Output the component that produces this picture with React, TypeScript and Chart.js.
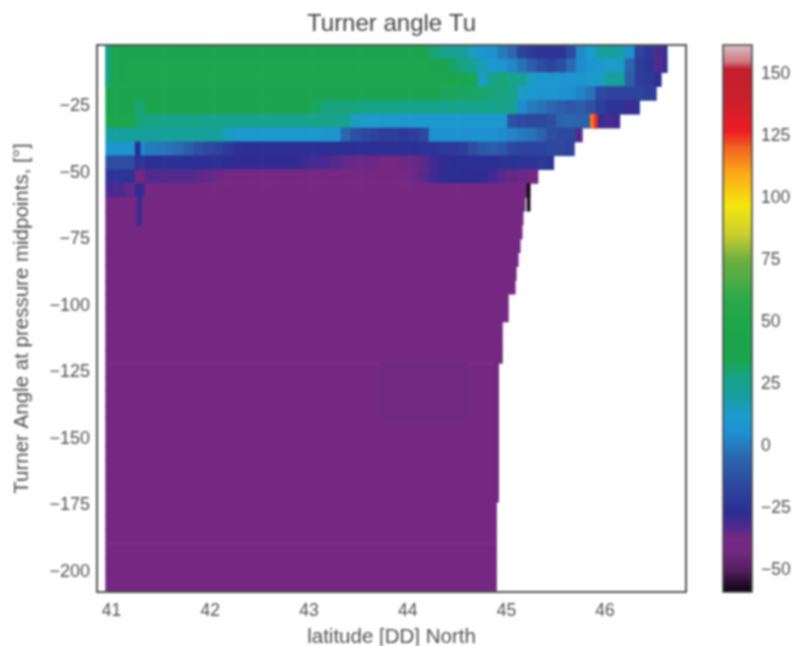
import React, { useEffect, useRef } from "react";
import { Chart, registerables } from "chart.js";

Chart.register(...registerables);

// ---- data ----
const chartTitle = "Turner angle Tu";
const xAxisLabel = "latitude [DD] North";
const yAxisLabel = "Turner Angle at pressure midpoints, [°]";
const xTickValues = [41, 42, 43, 44, 45, 46];
const yTickValues = [-25, -50, -75, -100, -125, -150, -175, -200];
const barTickValues = [150, 125, 100, 75, 50, 25, 0, -25, -50];

const firstLat = 40.94;
const latBin = 0.0993;
const firstDepth = -2.1;
const depthBin = 5.2;

const row0 = [40,36,40,40,40,40,40,40,34,40, 40,40,40,40,40,40,40,40,40,40, 40,40,40,40,40,40,40,40,40,40, 40,40,38,30,26,24,22,14,8,6, 0,-5,-18,-22,-24,-24,-24,-15,3,12, 20,22,18,6,-18,-22,-32,-26];
const row1 = [40,38,42,42,42,42,42,42,42,42, 42,42,42,42,42,42,42,42,42,42, 42,42,42,42,42,42,42,42,42,42, 42,42,42,40,36,32,28,24,16,10, 8,3,-2,-8,-14,-18,-14,-4,4,8, 10,12,14,-5,-20,-24,-33,-26];
const row2 = [40,40,42,42,42,42,42,42,42,42, 42,42,42,42,42,42,42,42,42,42, 42,42,42,42,42,42,42,42,42,42, 42,42,42,42,42,40,36,33,14,28, 30,28,24,14,10,9,8,8,8,10, 14,22,20,-8,-20,-22,-26];
const row3 = [40,40,40,40,40,40,40,40,40,40, 40,40,40,40,40,40,40,40,40,40, 40,40,40,40,40,40,40,40,40,40, 38,36,36,35,33,33,32,32,31,30, 29,28,14,10,8,8,6,6,2,-2, -16,-18,-18,-18,-18,-20,-22];
const row4 = [40,40,40,30,37,37,37,37,37,37, 37,37,37,37,37,37,37,37,37,37, 36,32,29,29,29,29,28,28,28,28, 27,27,27,27,27,27,27,27,27,27, 26,25,4,0,-2,-5,-8,-10,-8,-12, -20,-24,-24,-30,-24];
const row5 = [42,42,42,30,28,28,28,28,28,28, 26,26,26,26,26,26,26,26,26,26, 26,26,26,26,24,14,12,12,11,11, 10,10,10,10,10,10,10,10,10,10, 10,-12,-15,-16,-16,-14,-6,-5,-6,-8, -30,-31,-30];
const row6 = [20,20,20,22,22,22,22,22,22,22, 22,20,15,11,10,10,10,10,10,10, 10,10,9,8,-5,-12,-16,-18,-20,-20, -22,-20,-16,6,6,6,6,6,6,6, 4,2,0,-2,-6,-14,-16,-16,-33];
const row7 = [8,8,8,4,0,-1,-2,-4,-8,-12, -16,-18,-22,-25,-26,-26,-26,-26,-26,-26, -26,-26,-26,-26,-26,-26,-26,-26,-26,-26, -26,-26,-24,-24,-22,-22,-20,-14,-10,-8, -10,-16,-18,-18,-18,-16,-16,-18];
const row8 = [-14,-14,-14,-22,-26,-26,-26,-26,-26,-26, -26,-26,-27,-28,-28,-28,-28,-28,-28,-28, -30,-31,-32,-33,-35,-36,-36,-36,-37,-37, -36,-36,-34,-30,-28,-27,-26,-26,-26,-26, -25,-25,-24,-24,-22,-24];
const row9 = [-24,-24,-24,-37,-33,-33,-33,-33,-33,-34, -35,-36,-37,-37,-37,-37,-37,-37,-37,-37, -37,-37,-37,-37,-37,-37,-37,-37,-37,-37, -37,-36,-34,-30,-28,-27,-27,-27,-28,-30, -34,-35,-36,-37,-37];
const row10 = [-32,-32,-35,-30,-37,-37,-37,-37,-37,-37, -37,-37,-37,-37,-37,-37,-37,-37,-37,-37, -37,-37,-37,-37,-37,-37,-37,-37,-37,-37, -37,-37,-37,-37,-37,-37,-37,-37,-37,-37, -37,-37,-37,-37,-37];
const upperRows = [row0, row1, row2, row3, row4, row5, row6, row7, row8, row9, row10];

// where each depth row ends, in degrees North
const rowEndLat = [46.63, 46.63, 46.57, 46.52, 46.35, 46.15, 45.77, 45.69, 45.48, 45.32, 45.24, 45.19, 45.17, 45.16, 45.14, 45.12, 45.10, 45.09, 45.02, 45.02, 44.96, 44.96, 44.96, 44.92, 44.92, 44.92, 44.92, 44.92, 44.92, 44.92, 44.92, 44.92, 44.92, 44.90, 44.90, 44.90, 44.90, 44.90, 44.90, 44.90];
// uniform value of the rows below the layered part
const deepRowValue = [-37, -37, -37, -37, -37, -37, -37, -37, -37, -37, -37, -37, -37, -37, -37, -37, -37, -37, -37, -37, -37, -37, -37, -37, -37, -37, -37, -37, -37];
// small features: [lat from, lat to, row, value]
const spots: number[][] = [
  [40.94, 40.98, 0, 22], [40.94, 40.98, 1, 22], [40.94, 40.98, 2, 24],
  [41.24, 41.29, 7, -27], [41.24, 41.29, 8, -24], [41.25, 41.30, 9, -38],
  [41.26, 41.30, 10, -28], [41.26, 41.30, 11, -28], [41.26, 41.30, 12, -28],
  [45.85, 45.89, 5, 117], [45.89, 45.92, 5, 125],
  [45.21, 45.24, 10, -58], [45.21, 45.24, 11, -58],
  [43.72, 44.61, 23, -41], [43.72, 44.61, 24, -41], [43.72, 44.61, 25, -41], [43.72, 44.61, 26, -41],
  [44.87, 44.92, 23, -42], [44.87, 44.92, 24, -42], [44.87, 44.92, 25, -42], [44.87, 44.92, 26, -42], [44.87, 44.92, 27, -42], [44.87, 44.92, 28, -42], [44.87, 44.92, 29, -42], [44.87, 44.92, 30, -42], [44.87, 44.92, 31, -42], [44.87, 44.92, 32, -42],
];

// colour map: value -> colour
const mapValues = [-59, -55, -50, -43, -37, -32, -27, -15, -5, 5, 12, 20, 28, 34, 50, 60, 75, 85, 97, 110, 120, 127, 140, 152, 155, 161.7];
const mapColors = ["#0a0510", "#2a1030", "#55215f", "#702880", "#742882", "#4a2a90", "#2c2d92", "#2d4aa0", "#2b66ae", "#1e90d0", "#1c9bcd", "#169f9f", "#17a386", "#1ba550", "#1ea64a", "#2eaa4a", "#6eb040", "#c8cf2f", "#f5e60d", "#fba918", "#f26522", "#ed1c24", "#c9202c", "#c41e2d", "#cf7a80", "#d8c0c4"];
const barRange = [-59, 161.7];

// ---- helpers ----
const hexToRgb = (h: string) => [1, 3, 5].map((i) => parseInt(h.slice(i, i + 2), 16));
function colorFor(v: number): string {
  let i = 0;
  while (i < mapValues.length - 2 && v > mapValues[i + 1]) i++;
  const t = Math.max(0, Math.min(1, (v - mapValues[i]) / (mapValues[i + 1] - mapValues[i])));
  const a = hexToRgb(mapColors[i]);
  const b = hexToRgb(mapColors[i + 1]);
  return `rgb(${a.map((c, n) => Math.round(c + (b[n] - c) * t)).join(",")})`;
}
const rowCenter = (r: number) => firstDepth - depthBin * (r + 0.5);

type Cell = { x: number[]; y: number; v: number };
function buildCells(): Cell[] {
  const cells: Cell[] = [];
  upperRows.forEach((vals, r) => {
    vals.forEach((v, k) => {
      const lo = firstLat + latBin * k;
      const hi = Math.min(lo + latBin, rowEndLat[r]);
      if (hi > lo) cells.push({ x: [lo, hi], y: rowCenter(r), v });
    });
  });
  deepRowValue.forEach((v, i) => {
    const r = upperRows.length + i;
    cells.push({ x: [firstLat, rowEndLat[r]], y: rowCenter(r), v });
  });
  spots.forEach(([lo, hi, r, v]) => cells.push({ x: [lo, hi], y: rowCenter(r), v }));
  return cells;
}

const minus = (v: number | string) => String(v).replace("-", "\u2212");
const TEXT = "#505050";
const FONT = "'Liberation Sans', Arial, sans-serif";

const framePlugin = {
  id: "frame",
  afterDatasetsDraw(chart: any, _a: any, opts: any) {
    const { left, top, width, height } = chart.chartArea;
    const c = chart.ctx;
    c.save();
    c.strokeStyle = opts.color;
    c.lineWidth = opts.width;
    c.strokeRect(left, top, width, height);
    c.restore();
  },
};

export default function App() {
  const mainRef = useRef<HTMLCanvasElement>(null);
  const barRef = useRef<HTMLCanvasElement>(null);

  useEffect(() => {
    const main = new Chart(mainRef.current!, {
      type: "bar",
      data: {
        datasets: [
          {
            data: buildCells() as any,
            backgroundColor: (ctx: any) => colorFor(ctx.raw ? ctx.raw.v : 0),
            borderWidth: 0,
            grouped: false,
            barPercentage: 1,
            categoryPercentage: 1,
          } as any,
        ],
      },
      plugins: [framePlugin],
      options: {
        indexAxis: "y",
        responsive: false,
        animation: false,
        layout: { padding: { right: 115, left: 0, top: 0, bottom: 0 } },
        plugins: {
          legend: { display: false },
          tooltip: { enabled: false },
          frame: { color: "#555555", width: 2 },
          title: {
            display: true,
            text: chartTitle,
            fullSize: false,
            color: "#444444",
            font: { family: FONT, size: 24, weight: "normal" },
            padding: { top: 9.6, bottom: 6.6 },
          },
        } as any,
        scales: {
          x: {
            type: "linear",
            min: 40.852,
            max: 46.82,
            offset: false,
            grid: { display: false, drawTicks: false },
            border: { display: false },
            afterBuildTicks: (s: any) => { s.ticks = xTickValues.map((value) => ({ value })); },
            afterFit: (s: any) => { s.height = 54; },
            ticks: { color: TEXT, font: { family: FONT, size: 17.5 }, padding: 9, maxRotation: 0, autoSkip: false },
            title: { display: true, text: xAxisLabel, color: TEXT, font: { family: FONT, size: 20.5, lineHeight: 1 }, padding: { top: 0, bottom: -2 } },
          },
          y: {
            type: "linear",
            min: -207.5,
            max: -2.1,
            offset: false,
            grid: { display: false, offset: false, drawTicks: false },
            border: { display: false },
            afterBuildTicks: (s: any) => { s.ticks = yTickValues.map((value) => ({ value })); },
            afterFit: (s: any) => { s.width = 97; },
            ticks: { color: TEXT, font: { family: FONT, size: 18 }, padding: 7, autoSkip: false, callback: (v: any) => minus(v) },
            title: { display: true, text: yAxisLabel, color: TEXT, font: { family: FONT, size: 20.5 }, padding: { top: 10, bottom: 0 } },
          },
        },
      } as any,
    });

    const bar = new Chart(barRef.current!, {
      type: "bar",
      data: {
        labels: [""],
        datasets: [
          {
            data: [barRange] as any,
            borderWidth: 0,
            barPercentage: 1,
            categoryPercentage: 1,
            backgroundColor: (ctx: any) => {
              const s = ctx.chart.scales.y;
              const y0 = s ? s.getPixelForValue(barRange[0]) : NaN;
              const y1 = s ? s.getPixelForValue(barRange[1]) : NaN;
              if (!Number.isFinite(y0) || !Number.isFinite(y1)) return "#000";
              const g = ctx.chart.ctx.createLinearGradient(0, y0, 0, y1);
              mapValues.forEach((v, i) => g.addColorStop((v - barRange[0]) / (barRange[1] - barRange[0]), mapColors[i]));
              return g;
            },
          } as any,
        ],
      },
      plugins: [framePlugin],
      options: {
        responsive: false,
        animation: false,
        layout: { padding: { left: 723, right: 0, top: 45, bottom: 54 } },
        plugins: {
          legend: { display: false },
          tooltip: { enabled: false },
          frame: { color: "#444444", width: 1.5 },
        } as any,
        scales: {
          x: { display: false },
          y: {
            position: "right",
            min: barRange[0],
            max: barRange[1],
            grid: { display: false, drawTicks: false },
            border: { display: false },
            afterBuildTicks: (s: any) => { s.ticks = barTickValues.map((value) => ({ value })); },
            afterFit: (s: any) => { s.width = 49; },
            ticks: { color: TEXT, font: { family: FONT, size: 17.5 }, padding: 9, autoSkip: false, callback: (v: any) => minus(v) },
          },
        },
      } as any,
    });

    return () => {
      main.destroy();
      bar.destroy();
    };
  }, []);

  const canvasStyle: React.CSSProperties = { position: "absolute", left: 0, top: 0, filter: "blur(0.8px)" };
  return (
    <div style={{ position: "fixed", left: 0, top: 0, width: 801, height: 646, background: "#fff", overflow: "hidden" }}>
      <canvas ref={mainRef} width={801} height={646} style={canvasStyle} />
      <canvas ref={barRef} width={801} height={646} style={canvasStyle} />
    </div>
  );
}
